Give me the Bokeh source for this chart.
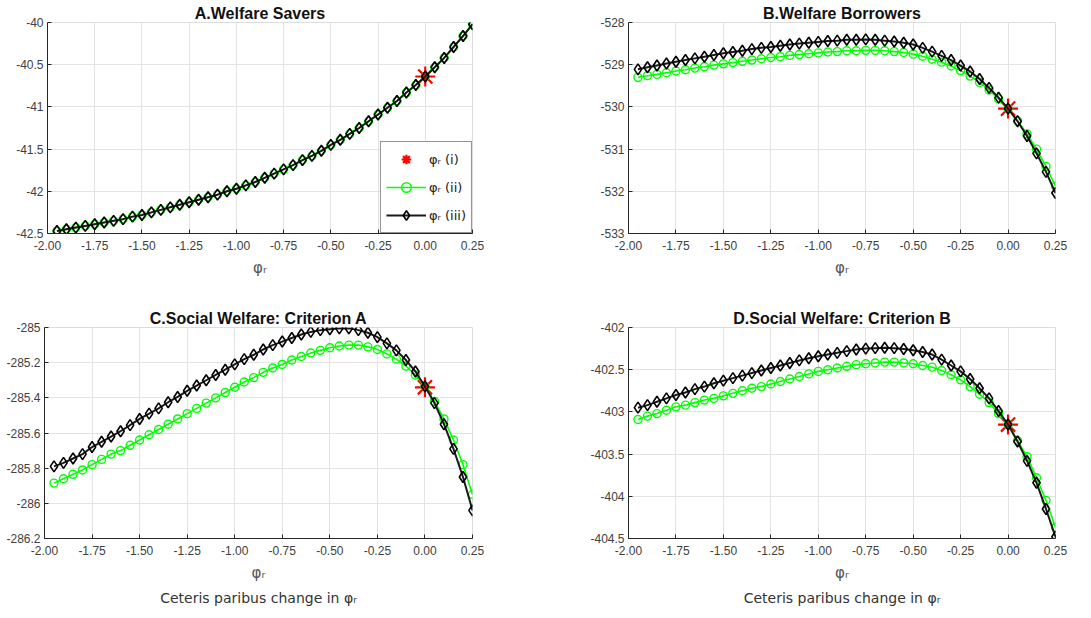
from bokeh.plotting import figure
from bokeh.layouts import column, row
from bokeh.models import (FixedTicker, NumeralTickFormatter, CustomJSTickFormatter,
                          Legend, LegendItem, Title, Range1d)
from bokeh.embed import file_html
from bokeh.resources import INLINE

phi_r = [-1.95, -1.90, -1.85, -1.80, -1.75, -1.70, -1.65, -1.60, -1.55, -1.50,
         -1.45, -1.40, -1.35, -1.30, -1.25, -1.20, -1.15, -1.10, -1.05, -1.00,
         -0.95, -0.90, -0.85, -0.80, -0.75, -0.70, -0.65, -0.60, -0.55, -0.50,
         -0.45, -0.40, -0.35, -0.30, -0.25, -0.20, -0.15, -0.10, -0.05, 0.00,
         0.05, 0.10, 0.15, 0.20, 0.25]

# Panel A: Welfare Savers
savers_ii = [-42.47, -42.45, -42.43, -42.41, -42.39, -42.37, -42.35, -42.33, -42.30, -42.28,
             -42.25, -42.22, -42.19, -42.16, -42.13, -42.10, -42.07, -42.04, -42.00, -41.97,
             -41.93, -41.89, -41.84, -41.79, -41.74, -41.69, -41.63, -41.58, -41.52, -41.45,
             -41.39, -41.32, -41.25, -41.17, -41.09, -41.01, -40.93, -40.83, -40.74, -40.64,
             -40.53, -40.42, -40.29, -40.16, -40.02]
savers_iii = [-42.47, -42.45, -42.43, -42.41, -42.39, -42.37, -42.35, -42.33, -42.30, -42.28,
              -42.25, -42.22, -42.19, -42.16, -42.13, -42.10, -42.07, -42.04, -42.00, -41.97,
              -41.93, -41.89, -41.84, -41.79, -41.74, -41.69, -41.63, -41.58, -41.52, -41.45,
              -41.39, -41.32, -41.25, -41.17, -41.09, -41.01, -40.93, -40.83, -40.74, -40.64,
              -40.53, -40.42, -40.29, -40.16, -40.02]
savers_i = -40.64

# Panel B: Welfare Borrowers
borrowers_ii = [-529.30, -529.26, -529.23, -529.19, -529.15, -529.12, -529.08, -529.05, -529.01, -528.98,
                -528.95, -528.92, -528.89, -528.86, -528.83, -528.81, -528.78, -528.76, -528.74, -528.72,
                -528.70, -528.69, -528.67, -528.67, -528.66, -528.66, -528.67, -528.69, -528.71, -528.75,
                -528.80, -528.87, -528.94, -529.03, -529.14, -529.27, -529.42, -529.60, -529.81, -530.04,
                -530.33, -530.64, -531.00, -531.41, -531.88]
borrowers_iii = [-529.11, -529.06, -529.02, -528.97, -528.93, -528.89, -528.85, -528.81, -528.77, -528.73,
                 -528.70, -528.67, -528.63, -528.60, -528.58, -528.55, -528.52, -528.50, -528.48, -528.46,
                 -528.44, -528.43, -528.41, -528.41, -528.40, -528.41, -528.43, -528.45, -528.48, -528.52,
                 -528.60, -528.69, -528.79, -528.89, -529.02, -529.16, -529.34, -529.55, -529.78, -530.04,
                 -530.34, -530.69, -531.10, -531.54, -532.04]
borrowers_i = -530.04

# Panel C: Social Welfare Criterion A
critA_ii = [-285.885, -285.86, -285.835, -285.81, -285.78, -285.75, -285.72, -285.70, -285.67, -285.64,
            -285.61, -285.58, -285.55, -285.52, -285.49, -285.46, -285.43, -285.40, -285.37, -285.34,
            -285.31, -285.285, -285.255, -285.23, -285.21, -285.185, -285.165, -285.145, -285.13, -285.115,
            -285.105, -285.10, -285.10, -285.11, -285.125, -285.15, -285.18, -285.22, -285.27, -285.335,
            -285.42, -285.52, -285.64, -285.78, -285.95]
critA_iii = [-285.79, -285.77, -285.745, -285.72, -285.68, -285.65, -285.62, -285.59, -285.555, -285.52,
             -285.49, -285.46, -285.425, -285.395, -285.36, -285.33, -285.30, -285.27, -285.24, -285.21,
             -285.18, -285.155, -285.125, -285.10, -285.08, -285.06, -285.04, -285.025, -285.015, -285.01,
             -285.005, -285.005, -285.015, -285.03, -285.055, -285.09, -285.13, -285.185, -285.25, -285.335,
             -285.43, -285.55, -285.69, -285.85, -286.04]
critA_i = -285.34

# Panel D: Social Welfare Criterion B
critB_ii = [-403.09, -403.05, -403.02, -402.98, -402.94, -402.92, -402.89, -402.86, -402.84, -402.81,
            -402.78, -402.75, -402.72, -402.70, -402.67, -402.64, -402.61, -402.58, -402.55, -402.52,
            -402.50, -402.48, -402.46, -402.44, -402.43, -402.42, -402.41, -402.41, -402.42, -402.43,
            -402.45, -402.47, -402.51, -402.56, -402.62, -402.70, -402.79, -402.89, -403.02, -403.15,
            -403.34, -403.53, -403.78, -404.05, -404.37]
critB_iii = [-402.95, -402.92, -402.88, -402.84, -402.80, -402.77, -402.73, -402.70, -402.66, -402.63,
             -402.60, -402.57, -402.54, -402.51, -402.48, -402.45, -402.42, -402.39, -402.365, -402.34,
             -402.32, -402.30, -402.28, -402.26, -402.25, -402.245, -402.24, -402.245, -402.255, -402.27,
             -402.29, -402.32, -402.38, -402.45, -402.52, -402.61, -402.72, -402.84, -402.99, -403.15,
             -403.35, -403.58, -403.84, -404.15, -404.48]
critB_i = -403.15

x_ticks = [-2.0, -1.75, -1.5, -1.25, -1.0, -0.75, -0.5, -0.25, 0.0, 0.25]
yticks_A = [-42.5, -42.0, -41.5, -41.0, -40.5, -40.0]
yticks_B = [-533, -532, -531, -530, -529, -528]
yticks_C = [-286.2, -286.0, -285.8, -285.6, -285.4, -285.2, -285.0]
yticks_D = [-404.5, -404.0, -403.5, -403.0, -402.5, -402.0]

FONT = "Liberation Sans"
PHI = "\u03c6\u1d63"


def make_panel(title, ii, iii, star_y, yticks, borders, frame_w, bottom_note, legend):
    left, right, top, bottom = borders
    p = figure(frame_width=frame_w, frame_height=211,
               min_border_left=left, min_border_right=right,
               min_border_top=top, min_border_bottom=bottom,
               x_range=Range1d(-2.0, 0.25), y_range=Range1d(yticks[0], yticks[-1]),
               output_backend="svg", toolbar_location=None,
               background_fill_color="white", border_fill_color="white")
    p.title.text = title
    p.title.text_font = FONT
    p.title.text_font_size = "16px"
    p.title.text_font_style = "bold"
    p.title.align = "center"
    p.title.text_color = "#111111"
    p.title.standoff = 1
    p.title.text_line_height = 1.0

    p.outline_line_color = "#dcdcdc"
    for g in (p.xgrid[0], p.ygrid[0]):
        g.grid_line_color = "#e3e3e3"
        g.grid_line_width = 1

    p.xaxis.ticker = FixedTicker(ticks=x_ticks)
    p.xaxis.formatter = NumeralTickFormatter(format="0.00")
    p.yaxis.ticker = FixedTicker(ticks=yticks)
    p.yaxis.formatter = CustomJSTickFormatter(code="return String(Math.round(tick*10)/10);")
    for ax in (p.xaxis[0], p.yaxis[0]):
        ax.axis_line_color = "#262626"
        ax.major_tick_line_color = "#262626"
        ax.major_tick_in = 4
        ax.major_tick_out = 0
        ax.minor_tick_line_color = None
        ax.major_label_text_font = FONT
        ax.major_label_text_font_size = "12px"
        ax.major_label_text_color = "#404040"
    p.xaxis.major_label_standoff = 7
    p.yaxis.major_label_standoff = 4
    p.xaxis.axis_label = PHI
    p.xaxis.axis_label_text_font = "DejaVu Sans"
    p.xaxis.axis_label_text_font_style = "normal"
    p.xaxis.axis_label_text_font_size = "15px"
    p.xaxis.axis_label_text_color = "#555555"
    p.xaxis.axis_label_standoff = 6

    r_star = p.scatter([0.0], [star_y], marker="asterisk", size=20,
                       line_color="red", line_width=2.2)
    l_ii = p.line(phi_r, ii, line_color="#00ff00", line_width=1.6)
    s_ii = p.scatter(phi_r, ii, marker="circle", size=8, fill_color=None,
                     line_color="#00ff00", line_width=1.4)
    l_iii = p.line(phi_r, iii, line_color="#1a1a1a", line_width=2)
    s_iii = p.scatter(phi_r, iii, marker="diamond", size=11, fill_color=None,
                      line_color="#000000", line_width=1.6)

    if legend:
        lg = Legend(items=[LegendItem(label=PHI + " (i)", renderers=[r_star]),
                           LegendItem(label=PHI + " (ii)", renderers=[l_ii, s_ii]),
                           LegendItem(label=PHI + " (iii)", renderers=[l_iii, s_iii])],
                    location="bottom_right", margin=0, padding=5, spacing=4,
                    glyph_width=40, glyph_height=24, label_standoff=3,
                    label_text_font="DejaVu Sans", label_text_font_size="13px",
                    label_text_color="#222222",
                    border_line_color="#262626", border_line_width=1,
                    background_fill_color="white", background_fill_alpha=1.0)
        p.add_layout(lg, "center")

    if bottom_note:
        note = Title(text="Ceteris paribus change in " + PHI, align="center",
                     text_font="DejaVu Sans", text_font_size="14px",
                     text_font_style="normal", text_color="#333333", standoff=6)
        p.add_layout(note, "below")
    return p


pA = make_panel("A.Welfare Savers", savers_ii, savers_iii, savers_i, yticks_A,
                (47, 73, 22, 67), 425, False, True)
pB = make_panel("B.Welfare Borrowers", borrowers_ii, borrowers_iii, borrowers_i, yticks_B,
                (83, 35, 22, 67), 427, False, False)
pC = make_panel("C.Social Welfare: Criterion A", critA_ii, critA_iii, critA_i, yticks_C,
                (44, 73, 27, 78), 428, True, False)
pD = make_panel("D.Social Welfare: Criterion B", critB_ii, critB_iii, critB_i, yticks_D,
                (83, 35, 27, 78), 427, True, False)

layout = column(row(pA, pB), row(pC, pD))
open("out.html", "w").write(file_html(layout, INLINE))
